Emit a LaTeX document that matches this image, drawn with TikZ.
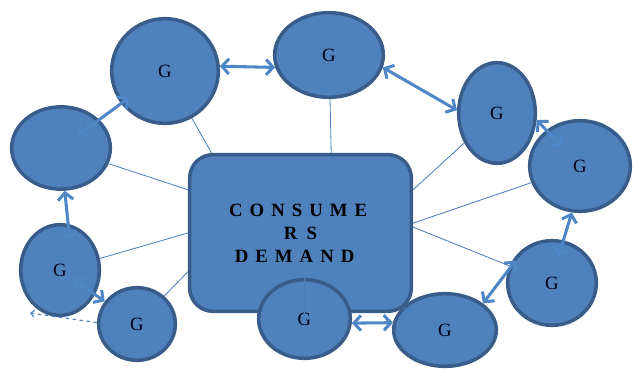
\documentclass[tikz,border=0pt]{standalone}
\usepackage{fontspec}
\setmainfont{Liberation Serif}
\usetikzlibrary{arrows.meta,shapes.geometric}
\definecolor{shapeFill}{HTML}{4F81BD}
\definecolor{shapeEdge}{HTML}{385D8A}
\definecolor{linkBlue}{HTML}{4F86C6}
\definecolor{spokeBlue}{HTML}{4A7EBB}
\newcommand{\hubfont}{\fontsize{16}{19.6}\selectfont\bfseries\spaceskip=6pt\relax}

\begin{document}
\begin{tikzpicture}[x=0.03cm, y=-0.03cm, >={Straight Barb[length=6pt,width=13pt]},
  gnode/.style={ellipse, fill=shapeFill, draw=shapeEdge, line width=3pt, inner sep=0pt,
    font=\fontsize{16}{19}\selectfont, text=black!90!blue},
  hub/.style={rectangle, rounded corners=0.7cm, fill=shapeFill, draw=shapeEdge, line width=3pt,
    minimum width=6.65cm, minimum height=4.7cm, align=center, text=black, font=\hubfont},
  link/.style={<->, linkBlue, line width=2.6pt},
  spoke/.style={spokeBlue, line width=0.7pt}]
\useasboundingbox (0,0) rectangle (635,370);
% centre box and the goods round it
\node[hub] (box) at (300.5,233) {C O N S U M E\hspace*{4pt}\\R\hspace{8pt}S\hspace*{4pt}\\D E M A N D\hspace*{10pt}};
\node[gnode, minimum width=2.75cm, minimum height=2.36cm] (g7) at (304.5,319) {G};
\node[gnode, minimum width=3.2cm, minimum height=3.14cm] (g1) at (165,71) {G};
\node[gnode, minimum width=3.26cm, minimum height=2.54cm] (g2) at (329,55) {G};
\node[gnode, minimum width=2.96cm, minimum height=2.47cm] (e0) at (61,148) {};
\node[gnode, minimum width=2.3cm, minimum height=3.02cm] (g3) at (497,113) {G};
\node[gnode, minimum width=3.02cm, minimum height=2.72cm] (g4) at (580,166) {G};
\node[gnode, minimum width=2.66cm, minimum height=2.54cm] (g5) at (552,283) {G};
\node[gnode, minimum width=3.08cm, minimum height=2.18cm] (g6) at (445,330) {G};
\node[gnode, minimum width=2.3cm, minimum height=2.18cm] (g8) at (137,324) {G};
\node[gnode, minimum width=2.36cm, minimum height=2.72cm] (g9) at (60,270) {G};
% thin lines to the box
\draw[spoke] (g1) -- (box.138);
\draw[spoke] (e0) -- (box.159);
\draw[spoke] (g2) -- (box.69);
\draw[spoke] (g3) -- (box.21);
\draw[spoke] (g4) -- (box.5);
\draw[spoke] (g5) -- (box.3);
\draw[spoke] (g6) -- (box.south east);
\draw[spoke] (g7.north) -- (g7.center);
\draw[spoke] (g8) -- (box.199);
\draw[spoke] (g9) -- (box.west);
% arrows between the goods
\draw[link] (g1.5) -- (g2.193);
\draw[link, shorten <=-0.8cm, shorten >=-0.3cm] (e0) -- (g1);
\draw[link] (g2.-13) -- (g3.176);
\draw[link, shorten >=0.8cm] (g3.-10) -- (g4.center);
\draw[link, shorten >=-0.5cm] (g4.-100) -- (g5.75);
\draw[link, shorten <=-0.4cm] (g5.165) -- (g6.35);
\draw[link] (g6.172) -- (g7.-5);
\draw[link, shorten <=-0.5cm] (g9.80) -- (e0.-85);
\draw[link, shorten <=-0.8cm] (g9) -- (g8);
\coordinate (lt) at (30,313);
\draw[-{Straight Barb[length=3pt,width=6pt]}, linkBlue, line width=1pt, dashed] (g8.178) -- (lt);
\end{tikzpicture}
\end{document}
